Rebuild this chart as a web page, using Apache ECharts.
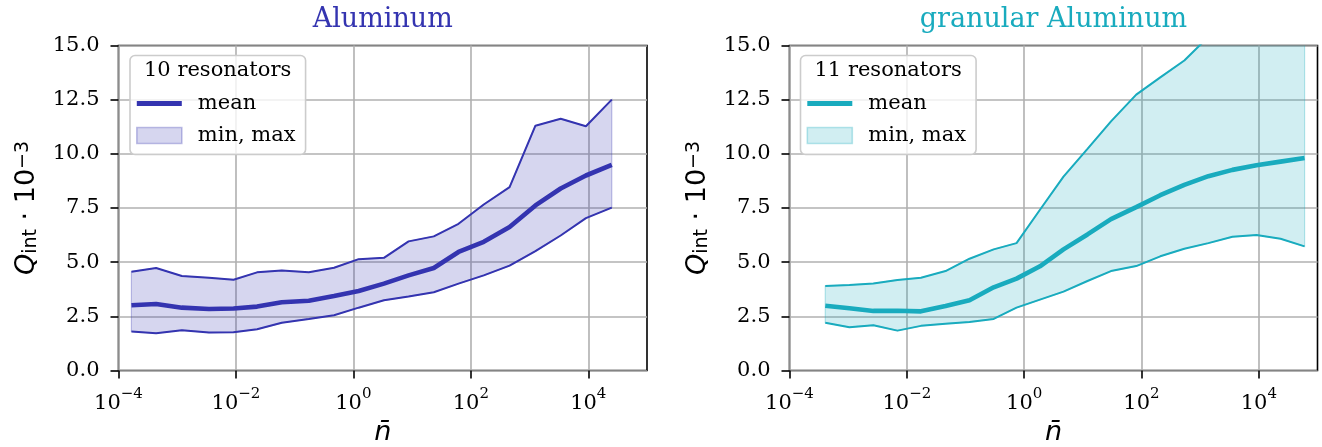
<!DOCTYPE html>
<html><head><meta charset="utf-8">
<script src="https://cdn.jsdelivr.net/npm/echarts@6/dist/echarts.min.js"></script>
<style>html,body{margin:0;padding:0;background:#fff}#c{width:1322px;height:447px}</style>
</head><body><div id="c"></div>
<script>
// ---- Aluminum (10 resonators) ----
const xAl = [1.66e-4, 4.37e-4, 1.2e-3, 3.47e-3, 9.1e-3, 0.0229, 0.0603, 0.174, 0.468, 1.23, 3.31, 8.71, 23.4, 61.7, 166, 457, 1259, 3388, 9120, 25119];
const meanAl = [3.01, 3.07, 2.90, 2.84, 2.86, 2.95, 3.15, 3.22, 3.44, 3.67, 4.01, 4.39, 4.73, 5.47, 5.94, 6.62, 7.62, 8.40, 9.00, 9.49];
const minAl = [1.80, 1.72, 1.86, 1.75, 1.77, 1.90, 2.20, 2.38, 2.55, 2.90, 3.24, 3.42, 3.61, 4.01, 4.39, 4.84, 5.51, 6.23, 7.03, 7.52];
const maxAl = [4.56, 4.73, 4.36, 4.28, 4.19, 4.53, 4.62, 4.53, 4.74, 5.14, 5.20, 5.96, 6.19, 6.77, 7.66, 8.46, 11.30, 11.62, 11.27, 12.50];

// ---- granular Aluminum (11 resonators) ----
const xGAl = [4.07e-4, 1.05e-3, 2.69e-3, 6.92e-3, 0.0174, 0.0457, 0.117, 0.302, 0.741, 1.86, 4.68, 12.0, 30.2, 81.3, 209, 537, 1380, 3548, 9120, 23442, 60256];
const meanGAl = [2.99, 2.87, 2.75, 2.76, 2.73, 2.98, 3.24, 3.84, 4.24, 4.81, 5.59, 6.28, 6.99, 7.54, 8.09, 8.57, 8.97, 9.26, 9.47, 9.64, 9.81];
const minGAl = [2.20, 2.00, 2.09, 1.84, 2.06, 2.16, 2.24, 2.38, 2.90, 3.27, 3.64, 4.13, 4.59, 4.82, 5.27, 5.62, 5.88, 6.17, 6.25, 6.08, 5.73];
const maxGAl = [3.90, 3.95, 4.02, 4.18, 4.28, 4.59, 5.16, 5.59, 5.88, 7.42, 8.95, 10.23, 11.50, 12.73, 13.53, 14.31, 15.4, 16.3, 17.0, 17.6, 18.1];

// ---- axes / ticks / texts ----
const xTickValues = [1e-4, 1e-2, 1, 1e2, 1e4];
const xTickExp = ['\u22124', '\u22122', '0', '2', '4'];
const titles = ['Aluminum', 'granular Aluminum'];
const legendTitles = ['10 resonators', '11 resonators'];
const legendLabels = ['mean', 'min, max'];

const colors = ['#3434b0', '#19abbe'];
const fills = ['rgba(52,52,176,0.2)', 'rgba(25,171,190,0.2)'];
const fillEdges = ['rgba(52,52,176,0.3)', 'rgba(25,171,190,0.3)'];

const zip = (x, y) => x.map((v, i) => [v, y[i]]);

const grids = [
  {left: 118.5, top: 45.5, width: 528.5, height: 325},
  {left: 789.5, top: 45.5, width: 528, height: 325}
];

const serif = 'DejaVu Serif', sans = 'DejaVu Sans';

function xAxisFor(i) {
  return {
    type: 'log', logBase: 10, gridIndex: i, min: 1e-4, max: 1e5,
    axisLine: {show: false},
    axisTick: {show: true, length: 8, customValues: xTickValues, lineStyle: {color: '#000', width: 1.6}},
    splitLine: {show: true, lineStyle: {color: '#b0b0b0', width: 1.6}},
    minorTick: {show: false}, minorSplitLine: {show: false},
    axisLabel: {
      customValues: xTickValues, margin: 16,
      formatter: function (v) {
        const k = xTickValues.findIndex(t => Math.abs(Math.log10(t) - Math.log10(v)) < 1e-6);
        if (k < 0) return '';
        return '{b|10}{s|' + xTickExp[k] + '}';
      },
      rich: {
        b: {fontFamily: serif, fontSize: 21, color: '#000', lineHeight: 28, verticalAlign: 'bottom'},
        s: {fontFamily: serif, fontSize: 15, color: '#000', lineHeight: 15, verticalAlign: 'top'}
      }
    },
    name: '{n|n\u0304}', nameLocation: 'middle', nameGap: 37,
    nameTextStyle: {rich: {n: {fontFamily: sans, fontStyle: 'italic', fontSize: 27, color: '#000'}}}
  };
}
function yAxisFor(i) {
  return {
    type: 'value', gridIndex: i, min: 0, max: 15, interval: 2.5,
    axisLine: {show: false},
    axisTick: {show: true, length: 8, lineStyle: {color: '#000', width: 1.6}},
    splitLine: {show: true, lineStyle: {color: '#b0b0b0', width: 1.6}},
    axisLabel: {margin: 19, fontFamily: serif, fontSize: 21, color: '#000', formatter: v => v.toFixed(1)},
    name: '{q|Q}{sb|int}{m| \u00b7 10}{sp|\u22123}', nameLocation: 'middle', nameGap: 78, nameRotate: 90,
    nameTextStyle: {rich: {
      q: {fontFamily: sans, fontStyle: 'italic', fontSize: 27, color: '#000', lineHeight: 27, verticalAlign: 'middle'},
      sb: {fontFamily: sans, fontSize: 19, color: '#000', lineHeight: 22, verticalAlign: 'bottom'},
      m: {fontFamily: sans, fontSize: 27, color: '#000', lineHeight: 27, verticalAlign: 'middle'},
      sp: {fontFamily: sans, fontSize: 19, color: '#000', lineHeight: 19, verticalAlign: 'top'}
    }}
  };
}

const sets = [
  {x: xAl, mean: meanAl, min: minAl, max: maxAl},
  {x: xGAl, mean: meanGAl, min: minGAl, max: maxGAl}
];
const series = [];
sets.forEach((s, i) => {
  const common = {xAxisIndex: i, yAxisIndex: i, silent: true, animation: false};
  const rows = s.x.map((v, k) => [v, s.min[k], s.max[k]]);
  // min-max band, drawn as one polygon through the axes' coordinate system
  series.push(Object.assign({}, common, {
    type: 'custom', name: 'band' + i, data: rows, z: 1,
    encode: {x: 0, y: [1, 2]},
    renderItem: function (params, api) {
      if (params.dataIndex !== 0) return null;
      const upper = rows.map(r => api.coord([r[0], r[2]]));
      const lower = rows.map(r => api.coord([r[0], r[1]])).reverse();
      const cs = params.coordSys;
      return {
        type: 'polygon',
        shape: {points: upper.concat(lower)},
        style: {fill: fills[i], stroke: fillEdges[i], lineWidth: 1.2},
        clipPath: {type: 'rect', shape: {x: cs.x, y: cs.y, width: cs.width, height: cs.height}}
      };
    }
  }));
  const ln = {type: 'line', symbol: 'none', showSymbol: false, clip: true};
  series.push(Object.assign({}, common, ln, {name: 'min' + i, data: zip(s.x, s.min), lineStyle: {color: colors[i], width: 2}, z: 3}));
  series.push(Object.assign({}, common, ln, {name: 'max' + i, data: zip(s.x, s.max), lineStyle: {color: colors[i], width: 2}, z: 3}));
  series.push(Object.assign({}, common, ln, {name: 'mean' + i, data: zip(s.x, s.mean), lineStyle: {color: colors[i], width: 4.6}, z: 4}));
});

const legendLeft = [130, 800.5];
const legends = [0, 1].map(i => ({
  left: legendLeft[i], top: 55.5, orient: 'vertical', selectedMode: false,
  padding: [37, 10, 8, 6], itemGap: 10, itemWidth: 45, itemHeight: 16,
  backgroundColor: 'rgba(255,255,255,0.8)', borderColor: '#cccccc', borderWidth: 1.6, borderRadius: 5,
  textStyle: {fontFamily: serif, fontSize: 21, color: '#000', lineHeight: 22, padding: [0, 0, 0, 11]},
  formatter: n => n.indexOf('mean') === 0 ? legendLabels[0] : legendLabels[1],
  data: [
    {name: 'mean' + i, icon: 'path://M0,0L46,0L46,5L0,5Z', itemStyle: {color: colors[i], borderWidth: 0}},
    {name: 'band' + i, icon: 'rect', itemStyle: {color: fills[i], borderColor: fillEdges[i], borderWidth: 1.6}}
  ],
  z: 10
}));

const graphicTexts = [0, 1].map(i => ({
  type: 'text', z: 200, left: legendLeft[i] + 14, top: 60,
  style: {text: legendTitles[i], font: '21px "DejaVu Serif"', fill: '#000'}
}));

const chart = echarts.init(document.getElementById('c'), null, {renderer: 'canvas'});
chart.setOption({
  animation: false,
  backgroundColor: '#fff',
  title: [0, 1].map(i => ({
    text: titles[i], left: grids[i].left + grids[i].width / 2, top: 6, textAlign: 'center', padding: 0,
    textStyle: {fontFamily: serif, fontWeight: 'normal', fontSize: 27, color: colors[i]}
  })),
  grid: grids.map(g => Object.assign({show: true, borderColor: '#000', borderWidth: 1.6, backgroundColor: 'transparent', containLabel: false, outerBoundsMode: 'none'}, g)),
  xAxis: [xAxisFor(0), xAxisFor(1)],
  yAxis: [yAxisFor(0), yAxisFor(1)],
  legend: legends,
  graphic: graphicTexts,
  series: series
});
</script></body></html>
